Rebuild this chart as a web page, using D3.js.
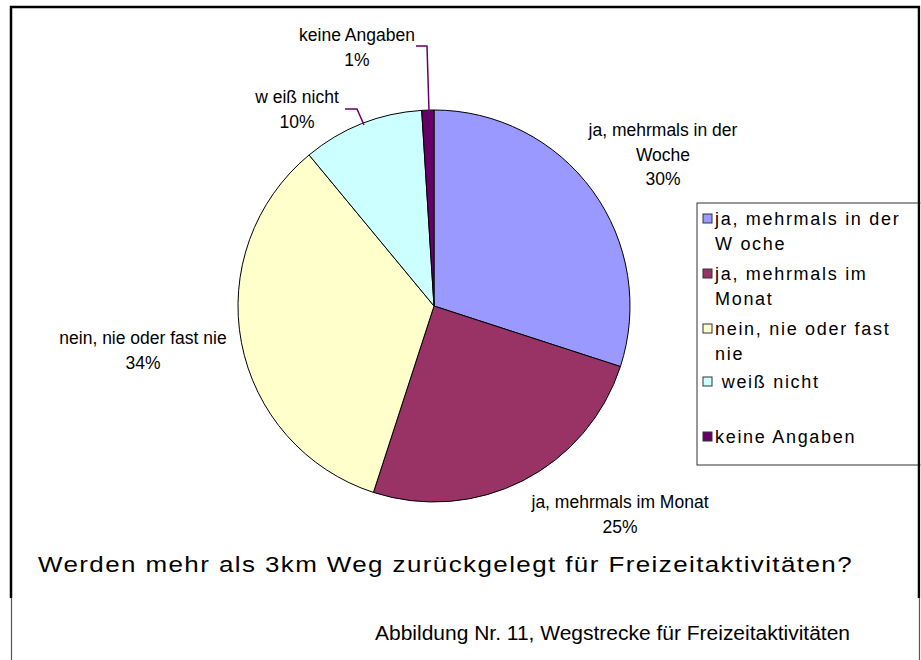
<html>
<head>
<script src="https://d3js.org/d3.v7.min.js"></script>
<style>
  body { margin: 0; background: #fff; }
  text { font-family: "Liberation Sans", Arial, sans-serif; fill: #000; }
</style>
</head>
<body>
<script>

// data
categories = ["ja, mehrmals in der Woche", "ja, mehrmals im Monat", "nein, nie oder fast nie", "weiß nicht", "keine Angaben"];
values = [30, 25, 34, 10, 1];
colors = ["#9999ff", "#993366", "#ffffcc", "#ccffff", "#660066"];
sliceLabels = [["ja, mehrmals in der", "Woche"], ["ja, mehrmals im Monat"], ["nein, nie oder fast nie"], ["w eiß nicht"], ["keine Angaben"]];
legendLines = [["ja, mehrmals in der", "W oche"], ["ja, mehrmals im", "Monat"], ["nein, nie oder fast", "nie"], [" weiß nicht"], ["keine Angaben"]];
title = "Werden mehr als 3km Weg zurückgelegt für Freizeitaktivitäten?";
caption = "Abbildung Nr. 11, Wegstrecke für Freizeitaktivitäten";

w = 921;
h = 660;

svg = d3.select("body").append("svg")
  .attr("width", w)
  .attr("height", h)

cx = 434;
cy = 306;
r = 196;

pie = d3.pie().sort(null).value(d => d)
arcs = pie(values)
arc = d3.arc().innerRadius(0).outerRadius(r)

pieG = svg.append("g").attr("transform", "translate(" + cx + "," + cy + ")")

pieG.selectAll("path")
  .data(arcs)
  .enter()
  .append("path")
  .attr("d", arc)
  .attr("fill", (d, i) => colors[i])
  .attr("stroke", "#000")
  .attr("stroke-width", 1)

// data labels (positions relative to pie centre)
labelPos = [[229, -170], [186, 202], [-291, 38], [-137, -203], [-77, -265]];

arcs.forEach(function(d, i) {
  var lines = sliceLabels[i].concat([values[i] + "%"]);
  var t = pieG.append("text")
    .attr("text-anchor", "middle")
    .attr("font-size", 17.5)
  lines.forEach(function(l, j) {
    t.append("tspan")
      .attr("x", labelPos[i][0])
      .attr("y", labelPos[i][1] + j * 24.5)
      .text(l)
  })
})

// leader lines for small slices
svg.append("polyline")
  .attr("points", "345,109 357,109 364,125")
  .attr("fill", "none").attr("stroke", "#660066").attr("stroke-width", 1.5)
svg.append("polyline")
  .attr("points", "416,46 427,46 429,111")
  .attr("fill", "none").attr("stroke", "#660066").attr("stroke-width", 1.5)

// legend
legend = svg.append("g").attr("transform", "translate(697,203)")
legend.append("rect")
  .attr("x", 0).attr("y", 0)
  .attr("width", 240).attr("height", 262)
  .attr("fill", "#fff").attr("stroke", "#333").attr("stroke-width", 1)

legendY = [22, 77, 132, 185, 240];

legendLines.forEach(function(lines, i) {
  legend.append("rect")
    .attr("x", 6).attr("y", legendY[i] - 11)
    .attr("width", 9).attr("height", 9)
    .attr("fill", colors[i]).attr("stroke", "#333").attr("stroke-width", 1)
  lines.forEach(function(l, j) {
    legend.append("text")
      .attr("x", 18)
      .attr("y", legendY[i] + j * 25)
      .attr("font-size", 18)
      .attr("letter-spacing", 1.7)
      .attr("xml:space", "preserve")
      .text(l)
  })
})

// frames (drawn on top so the legend is clipped by the right edge)
svg.append("path")
  .attr("d", "M11,598 V7 H919 V598")
  .attr("fill", "none")
  .attr("stroke", "#000")
  .attr("stroke-width", 2.5)
svg.append("rect").attr("x", 920.5).attr("y", 0).attr("width", 10).attr("height", h).attr("fill", "#fff")
svg.append("line").attr("x1", 11.5).attr("x2", 11.5).attr("y1", 598).attr("y2", 660)
  .attr("stroke", "#555").attr("stroke-width", 1.2)
svg.append("line").attr("x1", 919.5).attr("x2", 919.5).attr("y1", 598).attr("y2", 660)
  .attr("stroke", "#555").attr("stroke-width", 1.2)

// title and caption
svg.append("text")
  .attr("x", 38)
  .attr("y", 572)
  .attr("font-size", 22)
  .attr("letter-spacing", 1.2)
  .attr("textLength", 815)
  .attr("lengthAdjust", "spacingAndGlyphs")
  .text(title)

svg.append("text")
  .attr("x", 850)
  .attr("y", 640)
  .attr("text-anchor", "end")
  .attr("font-size", 20)
  .attr("textLength", 475)
  .attr("lengthAdjust", "spacingAndGlyphs")
  .text(caption)

</script>
</body>
</html>
